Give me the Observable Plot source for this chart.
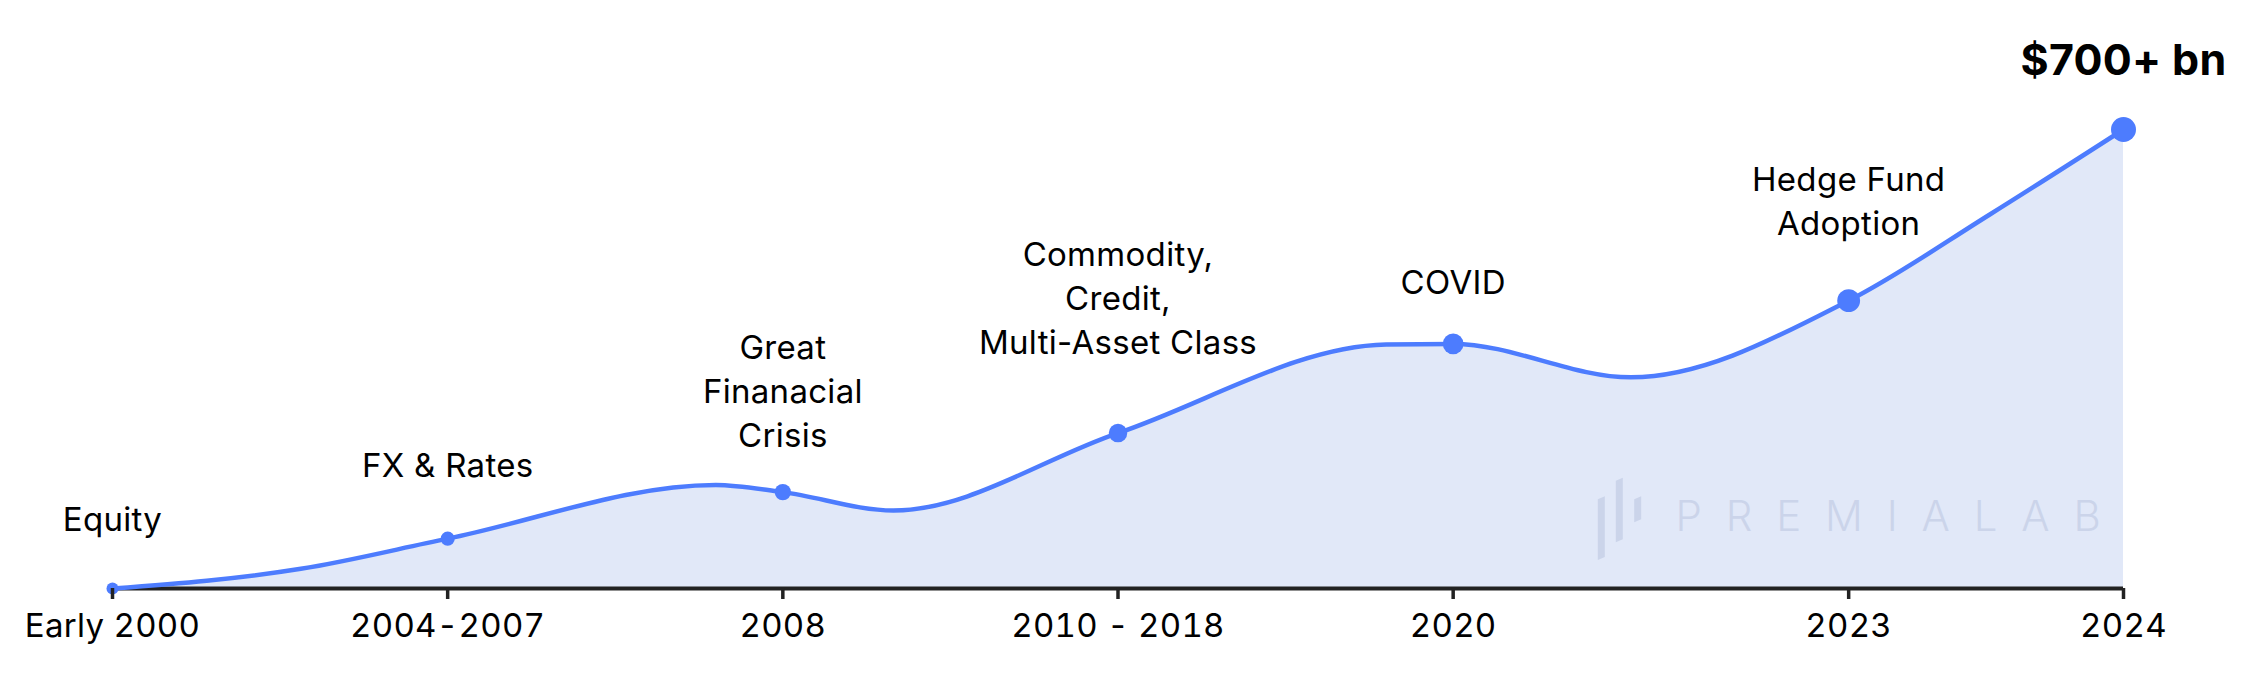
<!DOCTYPE html>
<html><head><meta charset="utf-8">
<script src="https://cdn.jsdelivr.net/npm/d3@7"></script>
<script src="https://cdn.jsdelivr.net/npm/@observablehq/plot@0.6"></script>
<style>body{margin:0;background:#fff;}</style>
</head><body><div id="chart"></div>
<script>
// Milestones (x axis categories) and their positions on the timeline
const milestones = ["Early 2000", "2004-2007", "2008", "2010 - 2018", "2020", "2023", "2024"];
const milestonePos = [0, 1, 2, 3, 4, 5.18, 6];
const milestoneValue = [0, 76, 147, 237, 373, 439, 700];
const events = ["Equity", "FX & Rates", "Great\nFinanacial\nCrisis", "Commodity,\nCredit,\nMulti-Asset Class", "COVID", "Hedge Fund\nAdoption", ""];
const headline = "$700+ bn";
// Curve trace (milestones plus the curve's turning points)
const curvePos   = [0, 0.562, 1.0, 1.8, 2.0, 2.33, 3.0, 3.8, 4.0, 4.53, 5.18, 5.6, 6.0];
const curveValue = [0, 30, 76, 158, 147, 119, 237, 372, 373, 322, 439, 570, 700];
const watermark = "PREMIALAB";

const BLUE = "#4d7cfe", FILL = "#e1e8f8", MARK = "#cbd4ea";
const table = milestones.map((m, i) => ({label: m, pos: milestonePos[i], value: milestoneValue[i], event: events[i], order: i}));
const trace = curvePos.map((p, i) => ({pos: p, value: curveValue[i]}));
const lift = [58, 62, 45.5, 79, 50, 66];

const plot = Plot.plot({
  width: 2243, height: 681,
  marginLeft: 112, marginRight: 120, marginTop: 129, marginBottom: 93,
  style: {fontFamily: "Inter, sans-serif", background: "#fff", letterSpacing: "0.3px"},
  x: {domain: [0, 6]},
  y: {domain: [0, 700], axis: null},
  r: {type: "linear", domain: [0, 6], range: [6, 12.5]},
  marks: [
    Plot.areaY(trace, {x: "pos", y: "value", curve: "monotone-x", fill: FILL}),
    Plot.ruleY([0], {stroke: "#222", strokeWidth: 4}),
    Plot.lineY(trace, {x: "pos", y: "value", curve: "monotone-x", stroke: BLUE, strokeWidth: 4.5}),
    Plot.dot(table, {x: "pos", y: "value", r: "order", fill: BLUE}),
    ...table.filter(d => d.event).map(d => Plot.text([d], {
      x: "pos", y: "value", text: "event", lineAnchor: "bottom", dy: -lift[d.order],
      fontSize: 33, lineHeight: 1.33, fill: "#000"
    })),
    Plot.text([table[6]], {x: "pos", y: "value", text: () => headline, lineAnchor: "bottom", dy: -55, fontSize: 43, fontWeight: 700, fill: "#000"}),
    Plot.axisX({ticks: milestonePos, tickFormat: p => milestones[milestonePos.indexOf(p)],
      tickSize: 11, tickPadding: 14, fontSize: 33, strokeWidth: 3.5, stroke: "#222", fill: "#000", label: null})
  ]
});
document.getElementById("chart").appendChild(plot);

// Watermark, positioned relative to the plot frame
const R = plot.scale("x").range[1], B = plot.scale("y").range[0];
const svg = d3.select(plot);
const g = svg.insert("g", ":nth-child(4)").attr("fill", MARK);
const bars = [[-525.2, -88.7, -28], [-507.2, -107.3, -45.7], [-488.8, -88.7, -65.7]];
bars.forEach(([x, t, b]) => {
  g.append("polygon").attr("points",
    `${R + x},${B + t} ${R + x + 7},${B + t - 3} ${R + x + 7},${B + b - 3} ${R + x},${B + b}`);
});
g.append("text").attr("x", R - 447.5).attr("y", B - 57.3)
  .attr("text-anchor", "start")
  .attr("font-size", 42).attr("font-weight", 300)
  .attr("textLength", 425.5).attr("lengthAdjust", "spacing")
  .text(watermark);
</script></body></html>
